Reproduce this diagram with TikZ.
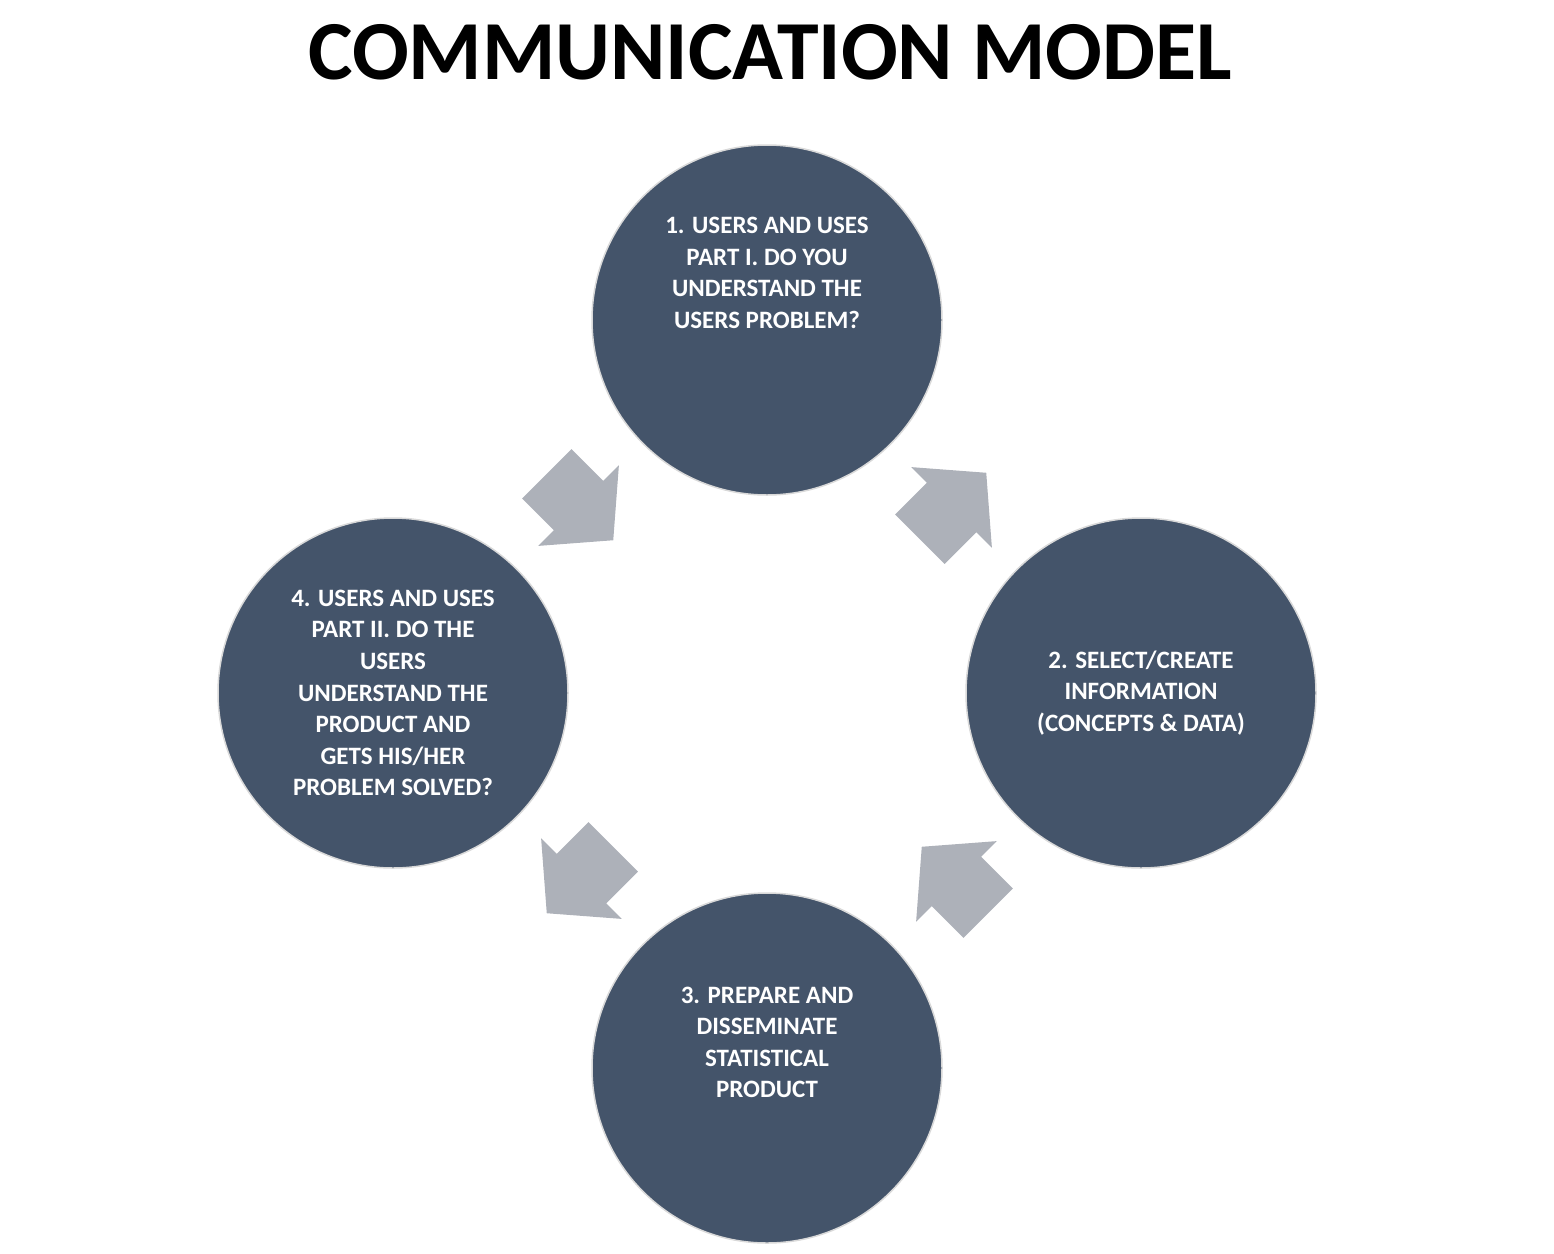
\documentclass[tikz,border=0pt]{standalone}
\usepackage{fontspec}
\setmainfont{Carlito}
\definecolor{circ}{HTML}{44546A}
\definecolor{arr}{HTML}{ADB1B9}
\begin{document}
\begin{tikzpicture}[x=1pt,y=-1pt,
  stage/.style={circle,fill=circ,draw=white!85!black,line width=1.5pt,minimum size=350pt,text=white,font=\fontsize{25}{31.6}\selectfont\bfseries,align=center,inner sep=0pt},
  blockarrow/.pic={\fill[arr] (-47,-35) -- (-2,-35) -- (-2,-57) -- (47,0) -- (-2,57) -- (-2,35) -- (-47,35) -- cycle;}]
\useasboundingbox (0,0) rectangle (1554,1253);
\node[font=\fontsize{84}{90}\selectfont\bfseries] (title) at (770,52) {COMMUNICATION MODEL};
\node[stage] (s1) at (767,320) {1. USERS AND USES\\PART I. DO YOU\\UNDERSTAND THE\\USERS PROBLEM?\\[63pt]};
\node[stage] (s2) at (1141,693) {2. SELECT/CREATE\\INFORMATION\\(CONCEPTS \& DATA)};
\node[stage] (s3) at (767,1068) {3. PREPARE AND\\DISSEMINATE\\STATISTICAL\\PRODUCT\\[20pt]};
\node[stage] (s4) at (393,693) {4. USERS AND USES\\PART II. DO THE\\USERS\\UNDERSTAND THE\\PRODUCT AND\\GETS HIS/HER\\PROBLEM SOLVED?};
\pic[rotate=45] (a12) at (953,506) {blockarrow};
\pic[rotate=135] (a23) at (955,880) {blockarrow};
\pic[rotate=225] (a34) at (580,880) {blockarrow};
\pic[rotate=315] (a41) at (580,507) {blockarrow};
\end{tikzpicture}
\end{document}
